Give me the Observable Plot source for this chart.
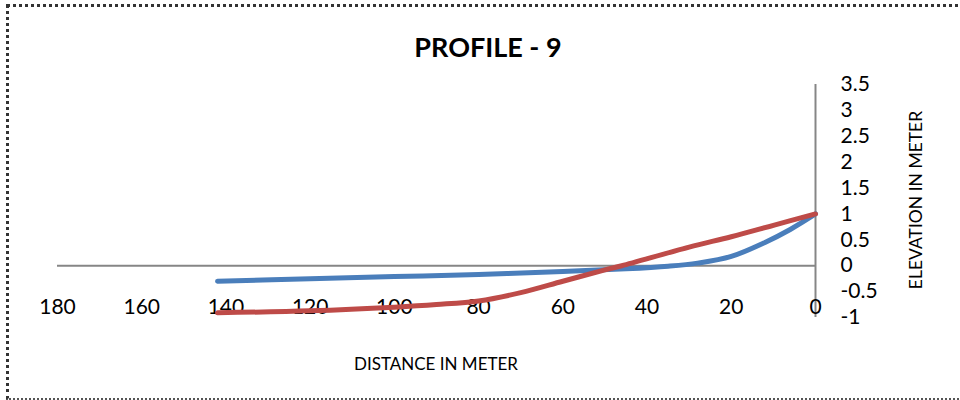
<!DOCTYPE html>
<html>
<head>
<meta charset="utf-8">
<script src="https://cdn.jsdelivr.net/npm/d3@7"></script>
<script src="https://cdn.jsdelivr.net/npm/@observablehq/plot@0.6"></script>
<style>
  html, body { margin: 0; padding: 0; background: #fff; }
  #wrap { position: relative; width: 960px; height: 400px; overflow: hidden; font-family: Lato, "Open Sans", sans-serif; }
  #frame { position: absolute; left: 6px; top: 4px; width: 960px; height: 396px;
           border-left: 3px dotted #333; border-top: 3px dotted #333; border-bottom: 2px dotted #555; box-sizing: border-box; }
  #title { position: absolute; left: 0; width: 976px; top: 30px; text-align: center; font-weight: bold; font-size: 27px; color: #000; }
  #xlabel { position: absolute; left: 0; width: 872px; top: 353px; text-align: center; font-size: 17px; color: #000; }
  #ylabel { position: absolute; left: 915px; top: 200px; transform: translate(-50%, -50%) rotate(-90deg); white-space: nowrap; font-size: 17.5px; color: #000; }
  #chart { position: absolute; left: 0; top: 0; }
</style>
</head>
<body>
<div id="wrap">
  <div id="chart"></div>
  <div id="frame"></div>
  <div id="title">PROFILE - 9</div>
  <div id="xlabel">DISTANCE IN METER</div>
  <div id="ylabel">ELEVATION IN METER</div>
</div>
<script>
// Series 1 (blue) : distance (m) and elevation (m)
const blueDistance  = [142, 120, 100, 80, 60, 45, 35, 28, 20, 12, 6, 0];
const blueElevation = [-0.30, -0.25, -0.21, -0.17, -0.11, -0.06, -0.01, 0.05, 0.18, 0.45, 0.70, 1.0];

// Series 2 (red)
const redDistance  = [142, 120, 100, 90, 80, 70, 60, 50, 46, 30, 20, 10, 0];
const redElevation = [-0.91, -0.87, -0.80, -0.75, -0.68, -0.52, -0.30, -0.08, 0.0, 0.36, 0.56, 0.78, 1.0];

// Tick labels
const xTicks = [180, 160, 140, 120, 100, 80, 60, 40, 20, 0];
const yTicks = [-1, -0.5, 0, 0.5, 1, 1.5, 2, 2.5, 3, 3.5];

const blue = blueDistance.map((d, i) => ({d, e: blueElevation[i]}));
const red = redDistance.map((d, i) => ({d, e: redElevation[i]}));

const chart = Plot.plot({
  width: 960,
  height: 400,
  marginLeft: 57,
  marginRight: 145,
  marginTop: 84,
  marginBottom: 83,
  style: { fontFamily: "Lato, 'Open Sans', sans-serif", background: "transparent", color: "#000" },
  x: { domain: [0, 180], reverse: true, axis: null },
  y: { domain: [-1, 3.5], axis: null },
  marks: [
    Plot.ruleY([0], { stroke: "#868686", strokeWidth: 2 }),
    Plot.ruleX([0], { stroke: "#868686", strokeWidth: 2 }),
    Plot.axisY({ anchor: "right", ticks: yTicks, tickSize: 0, tickPadding: 25, textAnchor: "start",
                 fontSize: 21, label: null, tickFormat: d => String(d) }),
    Plot.text(xTicks, { x: d => d, text: d => String(d), frameAnchor: "bottom", dy: -10,
                        lineAnchor: "middle", fontSize: 21, fill: "#000" }),
    Plot.line(blue, { x: "d", y: "e", stroke: "#4a7ebb", strokeWidth: 5, curve: "catmull-rom", strokeLinecap: "round" }),
    Plot.line(red, { x: "d", y: "e", stroke: "#be4b48", strokeWidth: 5, curve: "catmull-rom", strokeLinecap: "round" })
  ]
});
document.getElementById("chart").appendChild(chart);
</script>
</body>
</html>
